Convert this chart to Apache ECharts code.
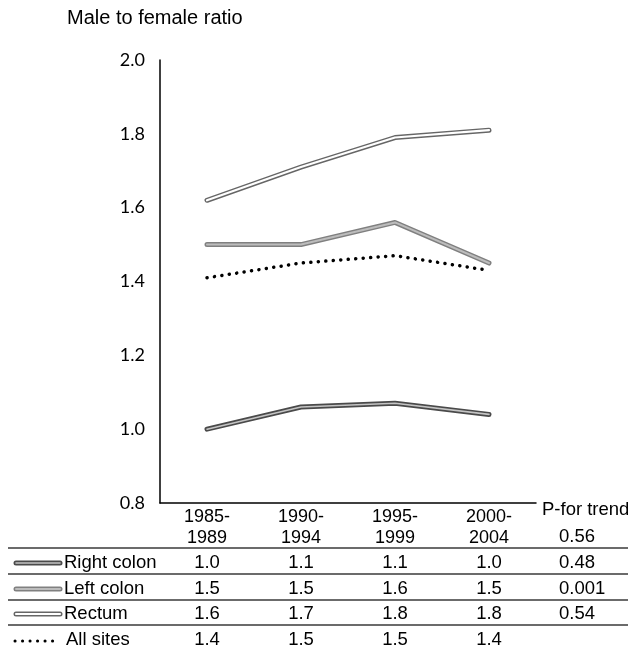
<!DOCTYPE html>
<html>
<head>
<meta charset="utf-8">
<script src="https://cdn.jsdelivr.net/npm/echarts@6/dist/echarts.min.js"></script>
<style>
  html, body { margin: 0; padding: 0; background: #fff; }
  #chart { width: 628px; height: 653px; }
</style>
</head>
<body>
<div id="chart"></div>
<script>
// Periods of diagnosis and male-to-female incidence ratios by subsite
const periods = ['1985-1989', '1990-1994', '1995-1999', '2000-2004'];
const rightColon = [1.00, 1.06, 1.07, 1.04];
const leftColon = [1.50, 1.50, 1.56, 1.45];
const rectum = [1.62, 1.71, 1.79, 1.81];
const allSites = [1.41, 1.45, 1.47, 1.43];
const pTrend = ['0.56', '0.48', '0.001', '0.54'];
const siteNames = ['Right colon', 'Left colon', 'Rectum', 'All sites'];

const FONT = '"Liberation Sans", Arial, sans-serif';
const NUMFONT = 'Lato, "Open Sans", sans-serif';

// Double-stroke look: a wide outer stroke with a thinner inner stroke on top
const styles = [
  { outer: '#4a4a4a', inner: '#c4c4c4', ow: 5, iw: 1.6 },
  { outer: '#808080', inner: '#bcbcbc', ow: 5, iw: 2 },
  { outer: '#666666', inner: '#ffffff', ow: 5, iw: 2.2 }
];
const seriesData = [rightColon, leftColon, rectum];

const series = [];
seriesData.forEach((d, i) => {
  const s = styles[i];
  series.push({
    name: siteNames[i], type: 'line', data: d, symbol: 'none', silent: true,
    lineStyle: { color: s.outer, width: s.ow, cap: 'round', join: 'round' }, z: 2 + i * 2
  });
  series.push({
    name: siteNames[i] + ' inner', type: 'line', data: d, symbol: 'none', silent: true,
    lineStyle: { color: s.inner, width: s.iw, cap: 'round', join: 'round' }, z: 3 + i * 2
  });
});
series.push({
  name: siteNames[3], type: 'line', data: allSites, symbol: 'none', silent: true,
  lineStyle: { color: '#000', width: 3.5, type: [0.1, 7.4], cap: 'round' }, z: 10
});

const chart = echarts.init(document.getElementById('chart'), null, { renderer: 'canvas' });
chart.setOption({
  animation: false,
  backgroundColor: '#fff',
  grid: { left: 160, right: 92, top: 60, bottom: 150, containLabel: false },
  xAxis: {
    type: 'category', data: periods, boundaryGap: true,
    axisLine: { lineStyle: { color: '#000', width: 1.5 } },
    axisTick: { show: false },
    axisLabel: {
      margin: 4, color: '#000', fontFamily: FONT, fontSize: 18, lineHeight: 21,
      formatter: v => v.replace('-', '-\n')
    },
    splitLine: { show: false }
  },
  yAxis: {
    type: 'value', min: 0.8, max: 2.0, interval: 0.2,
    axisLine: { show: true, lineStyle: { color: '#000', width: 1.5 } },
    axisTick: { show: false },
    splitLine: { show: false },
    axisLabel: {
      margin: 15, color: '#000', fontFamily: NUMFONT, fontSize: 18,
      formatter: v => v.toFixed(1)
    }
  },
  series: series
});

// Summary table under the plot, columns aligned with the category axis
const round1 = v => (Math.round(v * 10 + 1e-6) / 10).toFixed(1);
const colX = periods.map(p => chart.convertToPixel({ xAxisIndex: 0 }, p));
const rowY = [563, 589, 614, 640];
const ruleY = [548, 574, 600, 625];
const pX = 559;
const graphics = [];

graphics.push({
  type: 'text', left: 67, top: 8,
  style: { text: 'Male to female ratio', font: '20px ' + FONT, fill: '#000' }
});
graphics.push({
  type: 'text', x: 542, y: 510,
  style: { text: 'P-for trend', font: '18.5px ' + FONT, fill: '#000', textVerticalAlign: 'middle' }
});

ruleY.forEach(y => {
  graphics.push({
    type: 'line', shape: { x1: 8, y1: y, x2: 628, y2: y },
    style: { stroke: '#3a3a3a', lineWidth: 1.3 }
  });
});

const tableValues = [rightColon, leftColon, rectum, allSites];
tableValues.forEach((vals, r) => {
  const y = rowY[r];
  // legend sample
  if (r < 3) {
    const s = styles[r];
    graphics.push({
      type: 'line', shape: { x1: 16, y1: y, x2: 60, y2: y },
      style: { stroke: s.outer, lineWidth: s.ow, lineCap: 'round' }
    });
    graphics.push({
      type: 'line', shape: { x1: 16, y1: y, x2: 60, y2: y },
      style: { stroke: s.inner, lineWidth: s.iw, lineCap: 'round' }
    });
  } else {
    graphics.push({
      type: 'line', shape: { x1: 15, y1: y + 1, x2: 58, y2: y + 1 },
      style: { stroke: '#000', lineWidth: 3, lineDash: [0.1, 7.4], lineCap: 'round' }
    });
  }
  graphics.push({
    type: 'text', x: r < 3 ? 64 : 66, y: y,
    style: { text: siteNames[r], font: '18.5px ' + FONT, fill: '#000', textVerticalAlign: 'middle' }
  });
  vals.forEach((v, c) => {
    graphics.push({
      type: 'text', x: colX[c], y: y,
      style: { text: round1(v), font: '18.5px ' + FONT, fill: '#000', textAlign: 'center', textVerticalAlign: 'middle' }
    });
  });
});

// P-for-trend column: first entry sits in the header row
const pRowY = [537, 563, 589, 614];
pTrend.forEach((p, i) => {
  graphics.push({
    type: 'text', x: pX, y: pRowY[i],
    style: { text: p, font: '18.5px ' + FONT, fill: '#000', textVerticalAlign: 'middle' }
  });
});

chart.setOption({ graphic: graphics });
</script>
</body>
</html>
